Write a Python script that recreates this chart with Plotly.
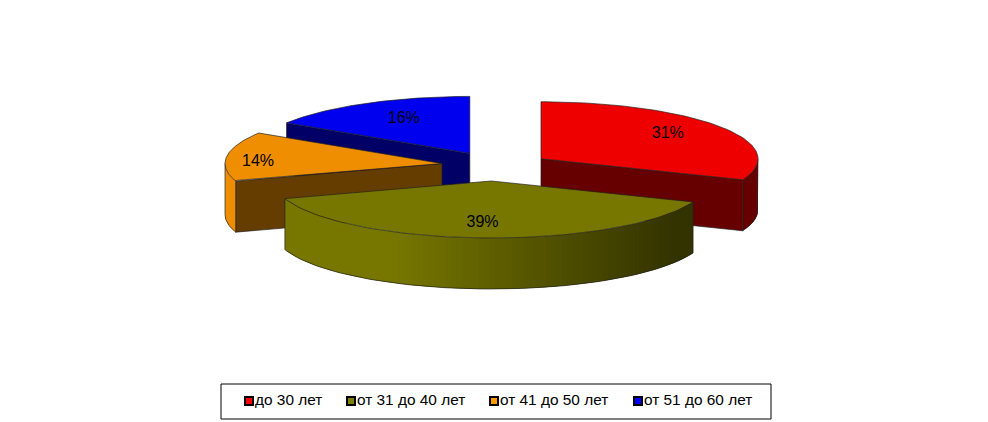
import numpy as np
import plotly.graph_objects as go

# Chart data
categories = ["до 30 лет", "от 31 до 40 лет", "от 41 до 50 лет", "от 51 до 60 лет"]
shares = [31, 39, 14, 16]

# Style
base_colors = [(238, 0, 0), (119, 119, 0), (238, 142, 0), (0, 0, 238)]
hex_colors = ["#ff0000", "#808000", "#ff9900", "#0000ff"]
label_radius = [0.74, 0.70, 0.85, 0.65]
label_dx = [-6, -4, -1, 2]
label_dy = [-1, 2, 5, -1.5]

# Pie geometry, in pixels of the page
cx, cy = 496, 165.5
rx, ry = 217, 57
depth = 51
explode_x, explode_y = 54.4, 15.5
nudge_x = [0, -3, 0, 0]
nudge_y = [2, 0, 0, 1.5]
dark = 0.43
edge = "rgba(30,30,30,0.85)"

legend_x = [249, 351, 494, 638]
legend_y = 401


def rgb(c, k=1.0):
    return "rgb(%d,%d,%d)" % (c[0] * k, c[1] * k, c[2] * k)


def arc(ax, ay, t1, t2, n=80):
    t = np.radians(np.linspace(t1, t2, n))
    return ax + rx * np.sin(t), ay - ry * np.cos(t)


def rim_shade(t):
    # front wall gets darker from left to right
    s = np.sin(np.radians(t))
    f = np.clip((s + 0.45) / 1.3, 0, 1)
    return 1 - (1 - dark) * f


fig = go.Figure()


def poly(xs, ys, fill, line=None, width=0.8):
    fig.add_trace(go.Scatter(
        x=list(xs), y=list(ys), mode="lines", fill="toself", fillcolor=fill,
        line=dict(color=line if line else fill, width=width if line else 0),
        hoverinfo="skip", showlegend=False))


# slice angles come from the values
total = sum(shares)
edges = np.concatenate([[0], np.cumsum(shares)]) / total * 360
slices = []
for i in range(len(shares)):
    t1, t2 = edges[i], edges[i + 1]
    mid = np.radians((t1 + t2) / 2)
    slices.append((i, t1, t2, mid,
                   cx + explode_x * np.sin(mid) + nudge_x[i],
                   cy - explode_y * np.cos(mid) + nudge_y[i]))

# back to front
for i, t1, t2, mid, ax, ay in [slices[3], slices[2], slices[0], slices[1]]:
    c = base_colors[i]

    # cut faces
    for t, visible in ((t1, np.sin(np.radians(t1)) < -0.01), (t2, np.sin(np.radians(t2)) > 0.01)):
        if visible:
            ex, ey = arc(ax, ay, t, t, 1)
            poly([ax, ex[0], ex[0], ax, ax], [ay, ey[0], ey[0] + depth, ay + depth, ay],
                 rgb(c, dark), edge)

    # outer wall, only the front half can be seen
    a, b = max(t1, 90), min(t2, 270)
    if b > a:
        # strips run right to left, each one lies over the end of the one before
        steps = np.linspace(b, a, int((b - a) / 1.5) + 2)
        step = steps[0] - steps[1]
        for s1 in steps[:-1]:
            s2 = max(s1 - 2 * step, a)
            x1, y1 = arc(ax, ay, s1, s2, 5)
            poly(np.r_[x1, x1[::-1], x1[0]], np.r_[y1, y1[::-1] + depth, y1[0]],
                 rgb(c, rim_shade(s1 - step / 2)))
        xb, yb = arc(ax, ay, a, b)
        fig.add_trace(go.Scatter(
            x=np.r_[xb[0], xb, xb[-1]], y=np.r_[yb[0], yb + depth, yb[-1]], mode="lines",
            line=dict(color=edge, width=0.8), hoverinfo="skip", showlegend=False))

    # top face
    xt, yt = arc(ax, ay, t1, t2)
    poly(np.r_[ax, xt, ax], np.r_[ay, yt, ay], rgb(c), edge)

# percent labels
for i, t1, t2, mid, ax, ay in slices:
    k = label_radius[i]
    fig.add_trace(go.Scatter(
        x=[ax + k * rx * np.sin(mid) + label_dx[i]], y=[ay - k * ry * np.cos(mid) + label_dy[i]],
        mode="text", text=["%d%%" % round(shares[i] / total * 100)], textposition="middle center",
        textfont=dict(family="Liberation Sans", size=16, color="#000000"),
        hoverinfo="skip", showlegend=False))

# legend
fig.add_shape(type="rect", x0=221, x1=771, y0=384, y1=419,
              line=dict(color="#000000", width=1), fillcolor="#ffffff", layer="below")
for i, name in enumerate(categories):
    fig.add_trace(go.Scatter(
        x=[legend_x[i]], y=[legend_y], mode="markers",
        marker=dict(symbol="square", size=8, color=hex_colors[i], line=dict(color="#000000", width=2)),
        hoverinfo="skip", showlegend=False))
    fig.add_trace(go.Scatter(
        x=[legend_x[i] + 6], y=[legend_y], mode="text", text=[name], textposition="middle right",
        textfont=dict(family="Liberation Sans", size=15.4, color="#000000"),
        hoverinfo="skip", showlegend=False))

fig.update_layout(
    width=988, height=422, margin=dict(l=0, r=0, t=0, b=0),
    paper_bgcolor="#ffffff", plot_bgcolor="#ffffff", showlegend=False,
    xaxis=dict(range=[0, 988], visible=False, fixedrange=True),
    yaxis=dict(range=[422, 0], visible=False, fixedrange=True),
)

fig.write_html("out.html", config={"displayModeBar": False},
               post_script="document.body.style.margin='0';document.body.style.overflow='hidden';")
